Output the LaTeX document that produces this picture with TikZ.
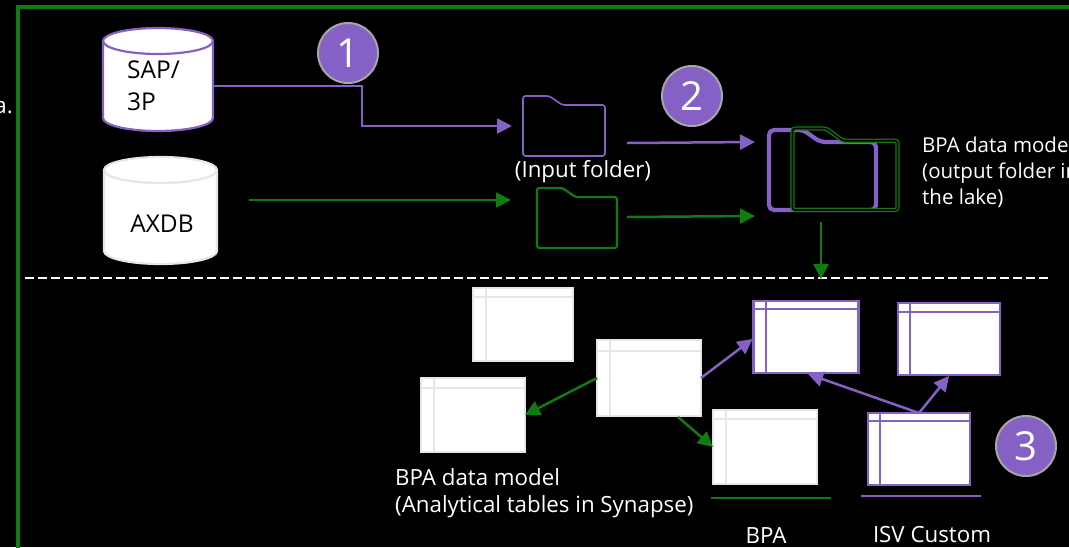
\documentclass[tikz,border=0pt]{standalone}
\usepackage{fontspec}
\setmainfont{Open Sans}
\usetikzlibrary{arrows.meta}
\definecolor{purp}{HTML}{8661C5}
\definecolor{grn}{HTML}{107C10}
\definecolor{tline}{HTML}{E6E6E6}
\definecolor{gborder}{HTML}{A6A6A6}
\tikzset{
  conn/.style={line width=2.5pt,-{Triangle[length=15pt,width=15pt]}},
  pconn/.style={conn,draw=purp},
  gconn/.style={conn,draw=grn},
  badge/.style={circle,draw=gborder,fill=purp,line width=2pt,minimum size=60pt,inner sep=0pt,text=white,font=\fontsize{40}{40}\selectfont},
  lbl/.style={text=white,font=\fontsize{22.3}{27}\selectfont,inner sep=0pt},
  lblsmall/.style={text=white,font=\fontsize{20.5}{26}\selectfont,inner sep=0pt},
  cyltxt/.style={text=black,font=\fontsize{24.5}{32}\selectfont,inner sep=0pt,align=left},
  box/.style={inner sep=0pt,outer sep=0pt},
}
% table: name, x1, y1, x2, y2, header y, column x, border colour, inner colour
\newcommand{\tbl}[9]{%
  \node[box,draw=#8,fill=white,line width=2.4pt,minimum width=#4pt-#2pt-2pt,minimum height=#5pt-#3pt-2pt] (#1) at ({(#2+#4)/2},{(#3+#5)/2}) {};
  \draw[#9,line width=2.4pt] (#2,#6) -- (#4,#6) (#7,#3) -- (#7,#5);
}
% folder outline: x1,y1,x2,y2 with tab
\newcommand{\fld}[5][]{%
  \draw[rounded corners=2.5pt,#1] (#2,#5) -- (#2,#3) -- ({#2+0.32*(#4-#2)},#3) -- ({#2+0.48*(#4-#2)},{#3+0.15*(#5-#3)}) -- (#4,{#3+0.15*(#5-#3)}) -- (#4,#5) -- cycle;
}
% cylinder: x1,x2,ytop centre,ybottom centre,ry, border colour
\newcommand{\cyl}[6]{%
  \draw[#6,fill=white,line width=2.2pt] (#1,#3) -- (#1,#4) arc[start angle=180,end angle=360,x radius={(#2-#1)/2*1pt},y radius=#5pt] -- (#2,#3) arc[start angle=0,end angle=180,x radius={(#2-#1)/2*1pt},y radius=#5pt] -- cycle;
  \draw[#6,line width=2.2pt] (#1,#3) arc[start angle=180,end angle=360,x radius={(#2-#1)/2*1pt},y radius=#5pt];
}
\begin{document}
\begin{tikzpicture}[x=1pt,y=-1pt]
\useasboundingbox (0,0) rectangle (1069,547);
\fill[black] (0,0) rectangle (1069,547);
\clip (0,0) rectangle (1069,547);
% frame
\draw[grn,line width=3.5pt] (18,560) -- (18,7) -- (1080,7);
\node[lbl,anchor=base east] (frag) at (13,113) {a.};
\draw[white,line width=1.6pt,dash pattern=on 8.5pt off 4.5pt] (25,278) -- (1050,278);
% cylinders
\cyl{103}{213}{41}{118}{13}{purp}
\node[box,minimum width=110pt,minimum height=103pt] (sap) at (158,79.5) {};
\node[cyltxt,anchor=north west] (saptxt) at (127,61) {SAP/\\3P};
\cyl{104}{217}{170}{251}{13}{tline}
\node[box,minimum width=113pt,minimum height=107pt] (axdb) at (160.5,210.5) {};
\node[cyltxt] (axdbtxt) at (162,224) {AXDB};
% folders
\fld[purp,line width=1.6pt]{523}{96}{605}{156}
\node[box,minimum width=82pt,minimum height=60pt] (infold) at (564,126) {};
\fld[grn,line width=2.2pt]{537}{188}{617}{248}
\node[box,minimum width=80pt,minimum height=60pt] (gfold) at (577,218) {};
\fld[purp,line width=4.2pt,rounded corners=5pt]{769}{130}{876}{210}
\fld[grn,line width=1.3pt,double=black,double distance=1.6pt]{792.5}{128.5}{897.5}{210}
\node[box,minimum width=130pt,minimum height=84pt] (outfold) at (833,170) {};
\node[lbl] (inlbl) at (583,172) {(Input folder)};
\node[lblsmall,anchor=north west,align=left] (outlbl) at (922,137) {BPA data model\\(output folder in\\the lake)};
% tables
\tbl{ta}{472}{287}{574}{362}{297}{486}{tline}{tline}
\tbl{tb}{596}{339}{702}{417}{351}{610}{tline}{tline}
\tbl{tc}{420}{377}{526}{453}{388}{434}{tline}{tline}
\tbl{td}{712}{409}{818}{485}{419}{726}{tline}{tline}
\tbl{te}{752.5}{300}{859.5}{374}{309}{766}{purp}{purp}
\tbl{tf}{897}{302}{1001}{376}{312}{910}{purp}{purp}
\tbl{tg}{867}{412}{971}{486}{421}{880}{purp}{purp}
% connectors
\draw[pconn] ([yshift=-6.5pt]sap.east) -- (362,86) -- (362,126) -- ([xshift=-11pt]infold.west);
\coordinate (axout) at (249,200);
\draw[gconn] (axout) -- ([xshift=-26pt,yshift=18pt]gfold.west);
\coordinate (p2a) at (627,143);
\coordinate (g2a) at (627,217);
\draw[pconn] (p2a) -- ([shift={(-13pt,28pt)}]outfold.west);
\draw[gconn] (g2a) -- ([shift={(-13pt,-46pt)}]outfold.west);
\coordinate (downtip) at (821,279);
\draw[gconn] ([yshift=-10pt]outfold.south -| downtip) -- (downtip);
\draw[gconn] (tb.west) -- (tc.east);
\draw[gconn] (678,417) -- (td.west);
\draw[pconn] (tb.east) -- (752.5,339);
\draw[pconn] (tg.north) -- (808,374);
\draw[pconn] (tg.north) -- (949,376);
% underlines
\coordinate (ua) at (711,498); \coordinate (ub) at (831,498);
\coordinate (uc) at (861,496); \coordinate (ud) at (981,496);
\draw[grn,line width=1.8pt] (ua) -- (ub);
\draw[purp,line width=1.8pt] (uc) -- (ud);
% badges
\node[badge] (b1) at (348,53) {1};
\node[badge] (b2) at (692,96) {2};
\node[badge] (b3) at (1026,446) {3};
% labels
\node[lbl,anchor=north west,align=left] (tl) at (395,468) {BPA data model\\(Analytical tables in Synapse)};
\node[lbl] (bpa) at (766,535) {BPA};
\node[lbl] (isv) at (932,535) {ISV Custom};
\end{tikzpicture}
\end{document}
